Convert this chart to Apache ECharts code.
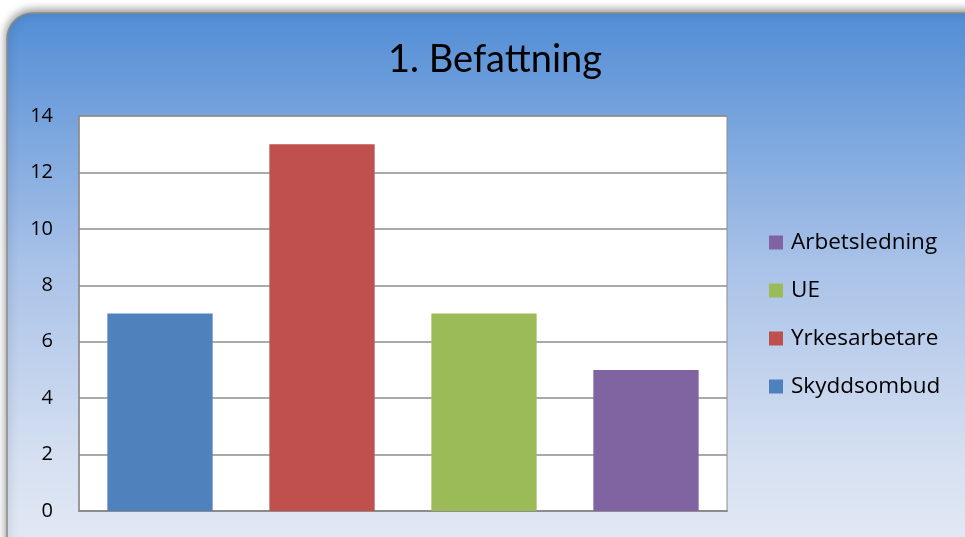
<!DOCTYPE html>
<html><head><meta charset="utf-8">
<script src="https://cdn.jsdelivr.net/npm/echarts@6/dist/echarts.min.js"></script>
<style>html,body{margin:0;padding:0;background:#fff}#c{width:965px;height:537px}</style>
</head><body><div id="c"></div>
<script>
const categories = ['Skyddsombud', 'Yrkesarbetare', 'UE', 'Arbetsledning'];
const values = [7, 13, 7, 5];
const colors = ['#4F81BD', '#C0504D', '#9BBB59', '#8064A2'];
const legendOrder = ['Arbetsledning', 'UE', 'Yrkesarbetare', 'Skyddsombud'];
const yTicks = { min: 0, max: 14, interval: 2 };

const chart = echarts.init(document.getElementById('c'), null, { renderer: 'canvas' });
const series = categories.map((name, i) => ({
  name: name,
  type: 'bar',
  stack: 'all',
  barWidth: '65%',
  itemStyle: { color: colors[i] },
  data: categories.map((c, j) => j === i ? values[i] : '-')
}));
chart.setOption({
  animation: false,
  graphic: [{
    type: 'rect', z: -10, silent: true,
    shape: { x: 7, y: 13, width: 990, height: 560, r: 26 },
    style: {
      fill: new echarts.graphic.LinearGradient(0, 0, 0, 1, [
        { offset: 0, color: '#528DD5' },
        { offset: 0.45, color: '#A9C2E8' },
        { offset: 0.8, color: '#D6E0F1' },
        { offset: 1, color: '#E6ECF6' }
      ]),
      stroke: '#8a8a8a', lineWidth: 1.5,
      shadowBlur: 10, shadowColor: 'rgba(0,0,0,0.45)', shadowOffsetY: -2
    }
  }],
  title: {
    text: '1. Befattning', left: 490, top: 36, textAlign: 'center',
    textStyle: { fontFamily: 'Lato', fontWeight: 'normal', fontSize: 38, color: '#000' }
  },
  legend: {
    data: legendOrder, orient: 'vertical', left: 764, top: 226,
    itemWidth: 14, itemHeight: 14, itemGap: 25, icon: 'rect',
    textStyle: { fontFamily: 'Open Sans', fontSize: 22.5, color: '#000', padding: [0, 0, 0, 3] }
  },
  grid: { left: 79, right: 238, top: 116, bottom: 26, show: true, backgroundColor: '#fff', borderColor: '#8c8c8c', borderWidth: 1 },
  xAxis: {
    type: 'category', data: categories,
    axisLine: { lineStyle: { color: '#8c8c8c', width: 2 } },
    axisTick: { show: false }, axisLabel: { show: false }
  },
  yAxis: {
    type: 'value', min: yTicks.min, max: yTicks.max, interval: yTicks.interval,
    axisLine: { show: true, lineStyle: { color: '#8c8c8c', width: 1.5 } },
    axisTick: { show: false },
    axisLabel: { margin: 26, fontFamily: 'Open Sans', fontSize: 20, color: '#000' },
    splitLine: { lineStyle: { color: '#8c8c8c', width: 1.5 } }
  },
  series: series
});
</script></body></html>
